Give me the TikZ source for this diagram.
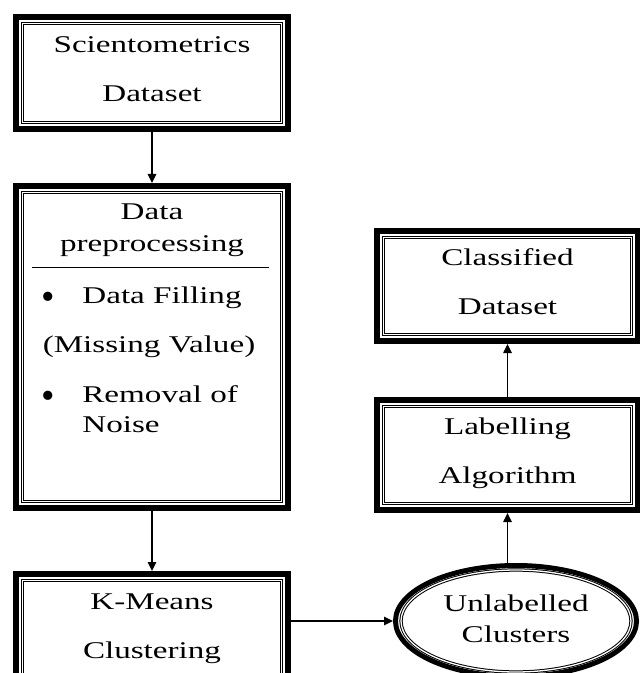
\documentclass[tikz,border=0pt]{standalone}
\usepackage{fontspec}
\setmainfont{Liberation Serif}
\usepackage{graphicx}
\usetikzlibrary{
	positioning,
	calc,
	shapes.geometric,
	arrows.meta
}
\newcommand{\wide}[1]{\scalebox{1.38}[1]{#1}}
\newcommand{\twolines}[3][6pt]{\wide{\begin{tabular}{@{}c@{}}#2\\#3\\[#1]\end{tabular}}}
\newcommand{\bigdot}{\raisebox{-3pt}{\scalebox{1.6}{\textbullet}}}
\tikzset{
	every edge/.append style={
		-{Triangle[length=4.5pt,width=4.2pt]},
		line width=0.65pt
	},
	flowbox/.style={
		draw, rectangle, line width=3pt, inner sep=0pt,
		font=\fontsize{12}{24.5}\selectfont,
		append after command={\pgfextra{\let\mainnode=\tikzlastnode
			\draw[double, line width=0.5pt, double distance=0.65pt]
				($(\mainnode.south west)+(4.8pt,4.8pt)$) rectangle
				($(\mainnode.north east)-(4.8pt,4.8pt)$);}}
	},
	roundbox/.style={
		draw, ellipse, line width=2.5pt, inner sep=0pt,
		minimum width=120.5pt, minimum height=55.5pt,
		font=\fontsize{12}{15.5}\selectfont,
		append after command={\pgfextra{\let\mainnode=\tikzlastnode
			\draw[double, line width=0.5pt, double distance=0.65pt]
				(\mainnode.center) ellipse [x radius=57.5pt, y radius=25.5pt];}}
	},
	itemtext/.style={
		inner sep=0pt, font=\fontsize{12}{16}\selectfont
	}
}

\begin{document}
\begin{tikzpicture}[x=0.5pt,y=-0.5pt]
		\clip (0,0) rectangle (640,673);
		\draw
			node[flowbox,minimum width=136pt,minimum height=56pt]    (sci)     at (152,73)    {\twolines{Scientometrics}{Dataset}}
			node[flowbox,minimum width=136pt,minimum height=161pt]   (prep)    at (152,347)   {}
			node[flowbox,minimum width=136pt,minimum height=56pt]    (kmeans)  at (152,630)   {\twolines{K-Means}{Clustering}}
			node[roundbox]                                           (unlab)   at (516,621)   {\twolines[0pt]{Unlabelled}{Clusters}}
			node[flowbox,minimum width=130.5pt,minimum height=53pt]  (label)   at (507.5,455) {\twolines{Labelling}{Algorithm}}
			node[flowbox,minimum width=130.5pt,minimum height=54pt]  (classif) at (507.5,286) {\twolines{Classified}{Dataset}}

			(sci)                        edge (prep)
			(prep)                       edge (kmeans)
			(unlab.west -| kmeans.east)  edge (unlab)
			(unlab.north -| label.south) edge (label)
			(label)                      edge (classif)
		;

		% inside of the preprocessing box
		\draw[line width=0.5pt] (32,268) -- (269,268);
		\node[itemtext,anchor=base]      (prephead) at (152,220) {\wide{\begin{tabular}[t]{@{}c@{}}Data\\preprocessing\end{tabular}}};
		\node[itemtext,anchor=base]      (dot1)     at (48,303)  {\bigdot};
		\node[itemtext,anchor=base west] (fill)     at (82,303)  {\wide{Data Filling}};
		\node[itemtext,anchor=base]      (miss)     at (149,352) {\wide{(Missing Value)}};
		\node[itemtext,anchor=base]      (dot2)     at (48,402)  {\bigdot};
		\node[itemtext,anchor=base west] (remov)    at (82,402)  {\wide{Removal of}};
		\node[itemtext,anchor=base west] (noise)    at (82,432)  {\wide{Noise}};
	\end{tikzpicture}
\end{document}
